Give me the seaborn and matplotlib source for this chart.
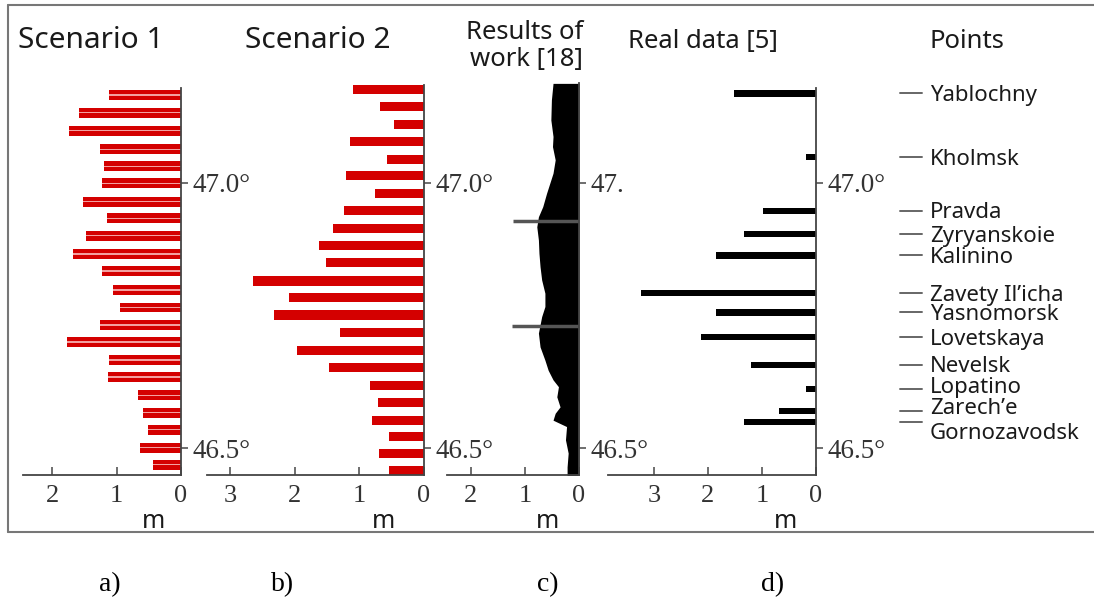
#!/usr/bin/env python
# -*- coding: utf-8 -*-
"""
Sea level height along the coast: scenarios vs published results vs observations.
"""

import matplotlib
matplotlib.use("Agg")
import matplotlib.pyplot as plt
from matplotlib.lines import Line2D
from matplotlib.transforms import blended_transform_factory, offset_copy
import seaborn as sns
import pandas as pd

sns.set_theme(style="white")
plt.rcParams['font.family'] = ['Noto Sans', 'DejaVu Sans']

# ---- data (latitude in degrees, height in m) ----
s1_lat = [47.165, 47.132, 47.098, 47.063, 47.031, 46.999, 46.964, 46.933, 46.900, 46.866, 46.834,
          46.798, 46.765, 46.732, 46.700, 46.666, 46.634, 46.600, 46.567, 46.535, 46.501, 46.469]
s1_height = [1.12, 1.58, 1.74, 1.25, 1.19, 1.23, 1.52, 1.14, 1.48, 1.68, 1.22,
             1.06, 0.94, 1.26, 1.76, 1.12, 1.13, 0.67, 0.59, 0.51, 0.64, 0.43]

s2_lat = [47.176, 47.143, 47.110, 47.077, 47.044, 47.013, 46.980, 46.947, 46.914, 46.881, 46.849, 46.815,
          46.784, 46.751, 46.718, 46.685, 46.653, 46.619, 46.587, 46.553, 46.522, 46.491, 46.459]
s2_height = [1.10, 0.68, 0.46, 1.14, 0.58, 1.21, 0.76, 1.24, 1.41, 1.62, 1.51, 2.65,
             2.09, 2.33, 1.30, 1.97, 1.47, 0.84, 0.72, 0.80, 0.54, 0.69, 0.54]

work_lat = [47.187, 47.156, 47.118, 47.087, 47.068, 47.043, 47.018, 46.999, 46.980, 46.955, 46.936,
            46.917, 46.892, 46.867, 46.842, 46.817, 46.792, 46.767, 46.748, 46.717, 46.691, 46.666,
            46.647, 46.629, 46.616, 46.597, 46.578, 46.566, 46.553, 46.541, 46.516, 46.491, 46.465, 46.447]
work_width = [0.48, 0.51, 0.52, 0.48, 0.49, 0.44, 0.48, 0.54, 0.60, 0.67, 0.75,
              0.78, 0.75, 0.74, 0.72, 0.69, 0.63, 0.63, 0.69, 0.75, 0.72, 0.63,
              0.57, 0.48, 0.38, 0.41, 0.35, 0.44, 0.48, 0.23, 0.25, 0.20, 0.22, 0.22]
work_spike_lat = [46.927, 46.730]
work_spike_width = [1.22, 1.23]

points = ['Yablochny', 'Kholmsk', 'Pravda', 'Zyryanskoie', 'Kalinino', 'Zavety Il\u2019icha',
          'Yasnomorsk', 'Lovetskaya', 'Nevelsk', 'Lopatino', 'Zarech\u2019e', 'Gornozavodsk']
real_lat = [47.168, 47.048, 46.947, 46.903, 46.863, 46.792,
            46.756, 46.709, 46.657, 46.612, 46.570, 46.550]
real_height = [1.52, 0.18, 0.99, 1.33, 1.85, 3.23,
               1.85, 2.12, 1.21, 0.18, 0.68, 1.33]

W, H = 1094, 604
RED = '#d40000'
SERIF = 'Liberation Serif'
LAT_TOP, LAT_BOT = 47.1877, 46.4498


def px_axes(fig, x0, x1, ytop=83, ybot=475):
    return fig.add_axes([x0 / W, 1 - ybot / H, (x1 - x0) / W, (ybot - ytop) / H])


def style_axis(ax, xmax, xticks, spine_top, ylabels=('46.5\u00b0', '47.0\u00b0')):
    ax.set_xlim(xmax, 0)
    ax.set_ylim(LAT_BOT, LAT_TOP)
    ax.set_facecolor('none')
    for side in ['left', 'top']:
        ax.spines[side].set_visible(False)
    for side in ['right', 'bottom']:
        ax.spines[side].set_color('#444444')
        ax.spines[side].set_linewidth(1.3)
    ax.spines['right'].set_bounds(LAT_BOT, spine_top)
    ax.set_xticks(xticks)
    ax.set_xticklabels([str(t) for t in xticks], fontfamily=SERIF, fontsize=19, color='#333333')
    ax.yaxis.tick_right()
    ax.set_yticks([46.5, 47.0])
    ax.set_yticklabels(list(ylabels), fontfamily=SERIF, fontsize=19.5, color='#333333')
    ax.tick_params(axis='x', direction='in', length=6, width=1.2, color='#555555', pad=7, bottom=True)
    ax.tick_params(axis='y', direction='out', length=5, width=1.2, color='#555555', pad=3,
                   right=True, left=False)
    ax.set_xlabel('')
    ax.set_ylabel('')
    ax.grid(False)


fig = plt.figure(figsize=(W / 100, H / 100), dpi=100)

# ---- a) Scenario 1 ----
ax_a = px_axes(fig, 23, 181)
df_a = pd.DataFrame({'lat': s1_lat, 'height': s1_height})
sns.barplot(data=df_a, x='height', y='lat', orient='y', native_scale=True, width=0.6,
            color=RED, saturation=1, errorbar=None, ax=ax_a, linewidth=0)
# faint light streak through the middle of each bar, as in the scanned figure
sns.barplot(data=df_a, x='height', y='lat', orient='y', native_scale=True, width=0.08,
            color='#f3a0a0', saturation=1, errorbar=None, ax=ax_a, linewidth=0)
style_axis(ax_a, 2.45, [2, 1, 0], 47.178)

# ---- b) Scenario 2 ----
ax_b = px_axes(fig, 207, 424)
df_b = pd.DataFrame({'lat': s2_lat, 'height': s2_height})
sns.barplot(data=df_b, x='height', y='lat', orient='y', native_scale=True, width=0.55,
            color=RED, saturation=1, errorbar=None, ax=ax_b, linewidth=0)
style_axis(ax_b, 3.36, [3, 2, 1, 0], 47.184)

# ---- c) Results of work [18] ----
ax_c = px_axes(fig, 447, 579)
ax_c.fill_betweenx(work_lat, 0, work_width, color='black', linewidth=0)
ax_c.hlines(work_spike_lat, 0, work_spike_width, color='#555555', linewidth=2.5)
style_axis(ax_c, 2.44, [2, 1, 0], LAT_TOP, ylabels=('46.5\u00b0', '47.'))

# ---- d) Real data [5] ----
ax_d = px_axes(fig, 608, 816)
df_d = pd.DataFrame({'lat': real_lat, 'height': real_height})
sns.barplot(data=df_d, x='height', y='lat', orient='y', native_scale=True, width=0.6,
            color='black', saturation=1, errorbar=None, ax=ax_d, linewidth=0)
style_axis(ax_d, 3.85, [3, 2, 1, 0], 47.178)

# point names with leader dashes
trans = blended_transform_factory(fig.transFigure, ax_d.transData)
nudge = {'Lopatino': 1, 'Zarech\u2019e': 3, 'Gornozavodsk': -12}
for name, lat in zip(points, real_lat):
    ax_d.plot([900 / W, 922 / W], [lat, lat], transform=trans, color='#666666',
              linewidth=1.4, clip_on=False)
    t = offset_copy(trans, fig=fig, y=nudge.get(name, -2), units='dots')
    ax_d.text(930 / W, lat, name, transform=t, fontsize=16, ha='left', va='center',
              color='#1a1a1a', clip_on=False)
ax_d.set_xlim(3.85, 0)
ax_d.set_ylim(LAT_BOT, LAT_TOP)

# ---- headers ----
fig.text(18 / W, 1 - 41 / H, 'Scenario 1', fontsize=21.5, ha='left', va='center', color='#1a1a1a')
fig.text(245 / W, 1 - 41 / H, 'Scenario 2', fontsize=21.5, ha='left', va='center', color='#1a1a1a')
fig.text(583 / W, 1 - 46 / H, 'Results of\nwork [18]', fontsize=18.5, ha='right', va='center',
         multialignment='right', linespacing=1.15, color='#1a1a1a')
fig.text(628 / W, 1 - 41 / H, 'Real data [5]', fontsize=18.5, ha='left', va='center', color='#1a1a1a')
fig.text(930 / W, 1 - 41 / H, 'Points', fontsize=18.5, ha='left', va='center', color='#1a1a1a')

# unit labels
for xm in [154, 384, 547, 786]:
    fig.text(xm / W, 1 - 522 / H, 'm', fontsize=18, ha='center', va='center', color='#1a1a1a')

# panel letters
for xl, lab in zip([110, 283, 548, 773], ['a)', 'b)', 'c)', 'd)']):
    fig.text(xl / W, 1 - 585 / H, lab, fontsize=20, ha='center', va='center',
             fontfamily=SERIF, color='black')

# outer frame
frame_kw = dict(transform=fig.transFigure, color='#777777', linewidth=1.5)
fig.add_artist(Line2D([8 / W, 8 / W], [1 - 5 / H, 1 - 532 / H], **frame_kw))
fig.add_artist(Line2D([8 / W, 1.0], [1 - 5 / H, 1 - 5 / H], **frame_kw))
fig.add_artist(Line2D([8 / W, 1.0], [1 - 532 / H, 1 - 532 / H], **frame_kw))

fig.savefig('out.png', dpi=100, facecolor='white')
plt.close(fig)
